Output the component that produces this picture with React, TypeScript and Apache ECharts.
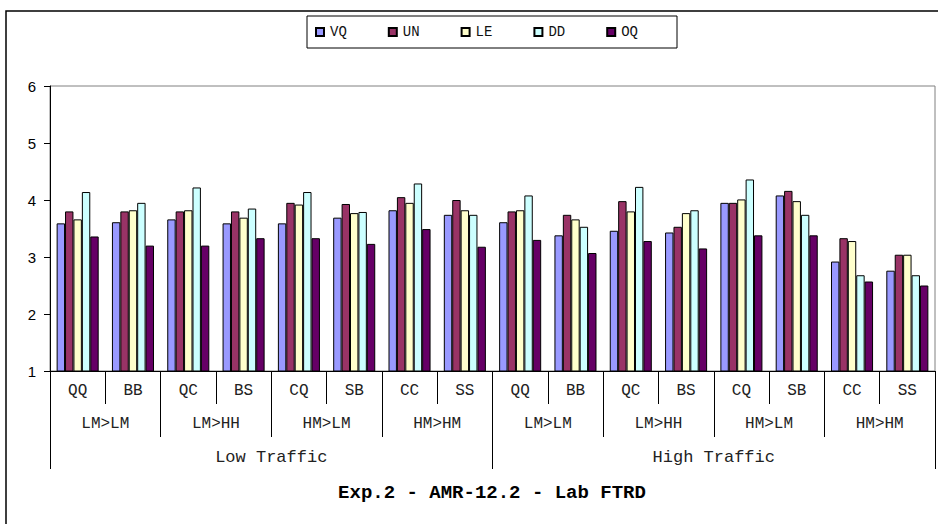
import React, { useEffect, useRef } from "react";
import * as echarts from "echarts";

const categories = ["QQ", "BB", "QC", "BS", "CQ", "SB", "CC", "SS", "QQ", "BB", "QC", "BS", "CQ", "SB", "CC", "SS"];
const subGroups = ["LM>LM", "LM>HH", "HM>LM", "HM>HM", "LM>LM", "LM>HH", "HM>LM", "HM>HM"];
const topGroups = ["Low Traffic", "High Traffic"];
const seriesNames = ["VQ", "UN", "LE", "DD", "OQ"];
const vq = [3.59, 3.61, 3.66, 3.59, 3.59, 3.69, 3.82, 3.74, 3.61, 3.38, 3.46, 3.43, 3.95, 4.08, 2.92, 2.76];
const un = [3.80, 3.80, 3.80, 3.80, 3.95, 3.93, 4.05, 4.00, 3.80, 3.74, 3.98, 3.53, 3.95, 4.16, 3.33, 3.04];
const le = [3.66, 3.82, 3.82, 3.69, 3.92, 3.77, 3.95, 3.82, 3.82, 3.66, 3.80, 3.77, 4.01, 3.98, 3.28, 3.04];
const dd = [4.14, 3.95, 4.22, 3.85, 4.14, 3.79, 4.29, 3.74, 4.08, 3.53, 4.23, 3.82, 4.36, 3.74, 2.68, 2.68];
const oq = [3.36, 3.20, 3.20, 3.33, 3.33, 3.23, 3.49, 3.18, 3.30, 3.07, 3.28, 3.15, 3.38, 3.38, 2.57, 2.50];
const yTicks = { min: 1, max: 6, interval: 1 };
const titleText = "Exp.2 - AMR-12.2 - Lab FTRD";

const colors = ["#9999FF", "#993366", "#FFFFCC", "#CCFFFF", "#660066"];
const mono = "'Liberation Mono', 'Courier New', monospace";

export default function App() {
  const ref = useRef<HTMLDivElement>(null);
  useEffect(() => {
    if (!ref.current) return;
    const chart = echarts.init(ref.current, null, { renderer: "svg" });
    const values = [vq, un, le, dd, oq];
    const xCommon = {
      type: "category" as const,
      position: "bottom" as const,
      gridIndex: 0,
      axisLine: { show: false },
      splitLine: { show: false },
    };
    chart.setOption({
      animation: false,
      backgroundColor: "#ffffff",
      grid: {
        left: 50,
        right: 3,
        top: 86,
        bottom: 153,
        show: true,
        borderColor: "#808080",
        borderWidth: 1,
        backgroundColor: "transparent",
      },
      legend: {
        data: seriesNames,
        left: 307,
        top: 16,
        orient: "horizontal",
        padding: [9, 39, 9, 8],
        borderColor: "#000",
        borderWidth: 1,
        itemWidth: 8,
        itemHeight: 8,
        itemGap: 41,
        textStyle: { fontFamily: mono, fontSize: 14, color: "#111", padding: [0, 0, 0, 1] },
        icon: "rect",
      },
      xAxis: [
        {
          ...xCommon,
          data: categories,
          axisLine: { show: true, lineStyle: { color: "#000", width: 1 } },
          axisTick: { show: true, interval: 0, length: 33, lineStyle: { color: "#000" } },
          axisLabel: { interval: 0, margin: 12, fontFamily: mono, fontSize: 16, color: "#222" },
        },
        {
          ...xCommon,
          data: subGroups,
          axisTick: { show: true, interval: 0, length: 66, lineStyle: { color: "#000" } },
          axisLabel: { interval: 0, margin: 45, fontFamily: mono, fontSize: 16, color: "#222" },
        },
        {
          ...xCommon,
          data: topGroups,
          axisTick: { show: true, interval: 0, length: 98, lineStyle: { color: "#000" } },
          axisLabel: { interval: 0, margin: 78, fontFamily: mono, fontSize: 17, color: "#222" },
        },
      ],
      yAxis: {
        type: "value",
        min: yTicks.min,
        max: yTicks.max,
        interval: yTicks.interval,
        axisLine: { show: true, lineStyle: { color: "#000", width: 1 } },
        axisTick: { show: true, length: 6, lineStyle: { color: "#000" } },
        axisLabel: { margin: 14, fontFamily: "'Liberation Sans', Arial, sans-serif", fontSize: 15, color: "#000" },
        splitLine: { show: false },
      },
      series: seriesNames.map((name, i) => ({
        name,
        type: "bar",
        xAxisIndex: 0,
        data: values[i],
        barGap: "0%",
        barCategoryGap: "24%",
        itemStyle: { color: colors[i], borderColor: "#000", borderWidth: 1 },
        emphasis: { disabled: true },
      })),
      graphic: [
        {
          type: "rect",
          shape: { x: 6, y: 11, width: 945, height: 530 },
          style: { fill: "none", stroke: "#000", lineWidth: 1.5 },
          silent: true,
        },
        {
          type: "text",
          x: 492,
          y: 493,
          style: {
            text: titleText,
            textAlign: "center",
            textVerticalAlign: "middle",
            font: `bold 19px ${mono}`,
            fill: "#000",
          },
        },
      ],
    });
    return () => chart.dispose();
  }, []);
  return (
    <div
      ref={ref}
      style={{ position: "fixed", left: 0, top: 0, width: 938, height: 524, background: "#fff" }}
    />
  );
}
